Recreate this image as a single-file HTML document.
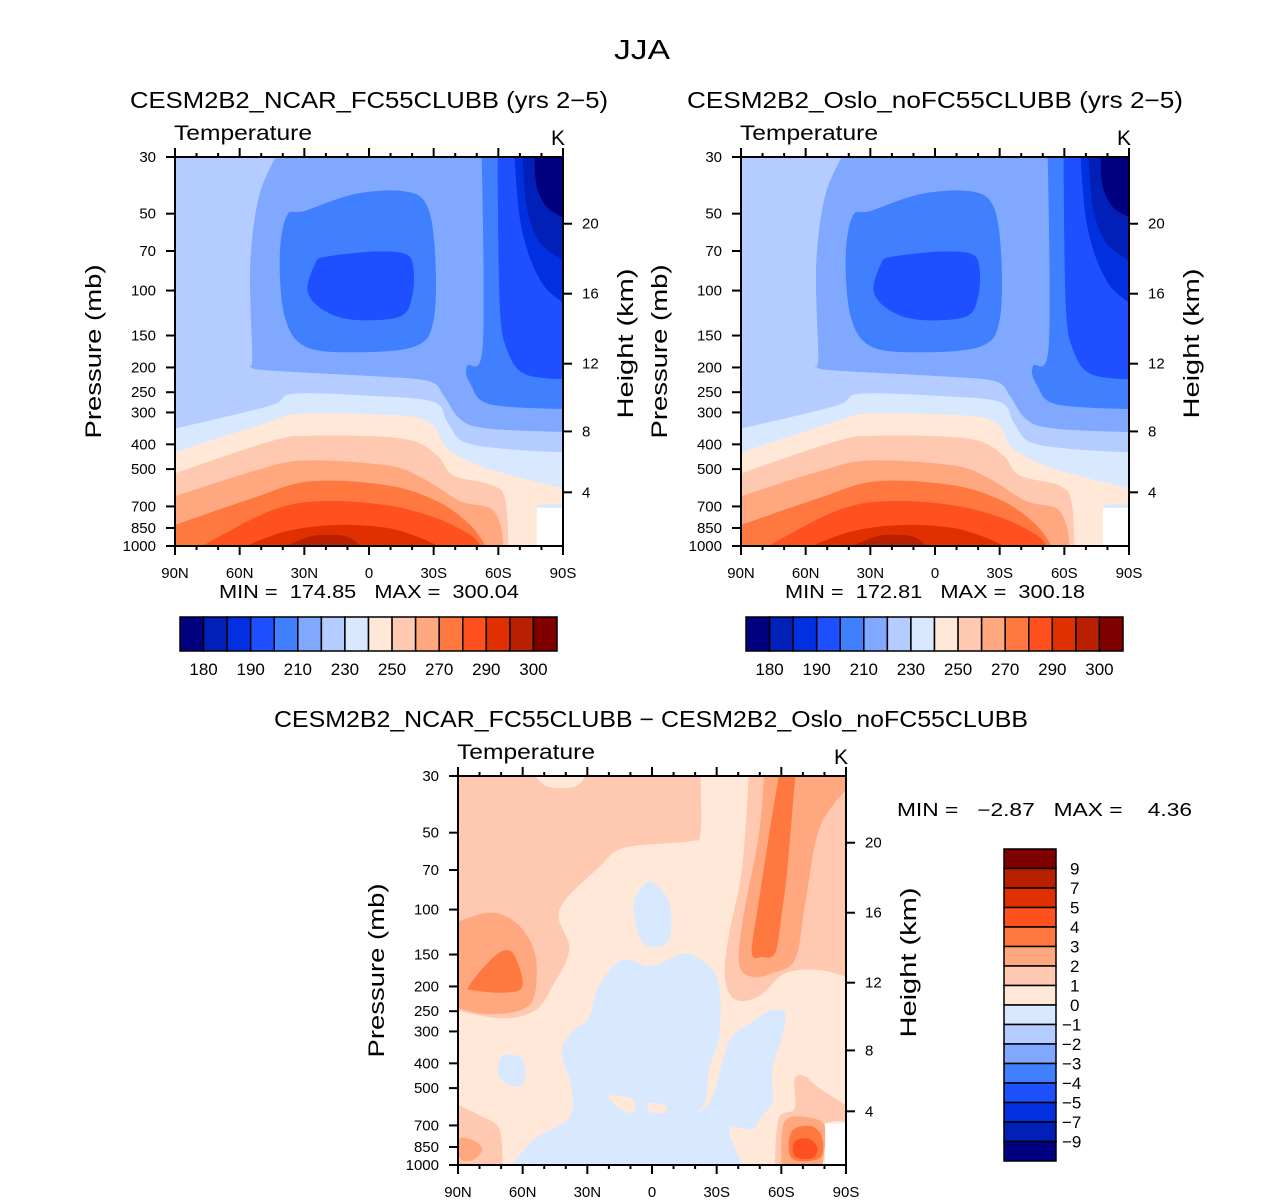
<!DOCTYPE html>
<html><head><meta charset="utf-8">
<style>
html,body{margin:0;padding:0;background:#fff;}
svg{display:block;font-family:"Liberation Sans",sans-serif;}
</style></head>
<body>
<svg id="fig" width="1285" height="1203" viewBox="0 0 1285 1203" xmlns="http://www.w3.org/2000/svg">
<rect width="1285" height="1203" fill="#fff"/>
<text x="642" y="59" font-size="28" text-anchor="middle" fill="#000" textLength="56" lengthAdjust="spacingAndGlyphs">JJA</text>
</svg>
<script>
// ---------- data ----------
const tempColors = ["#000080","#0020b8","#0030e0","#1f50ff","#4080ff","#80a8ff","#b4ccff","#d8e8ff","#ffe8d8","#ffc8b0","#ffa880","#ff7840","#ff5020","#e03000","#b82000","#800000"];
const tempLabels = ["180","190","210","230","250","270","290","300"];
const diffLabels = ["9","7","5","4","3","2","1","0","\u22121","\u22122","\u22123","\u22124","\u22125","\u22127","\u22129"];
const pressureTicks = [30,50,70,100,150,200,250,300,400,500,700,850,1000];
const heightTicks = [20,16,12,8,4];
const latLabels = ["90N","60N","30N","0","30S","60S","90S"];
const latMajor = [90,60,30,0,-30,-60,-90];

// Temperature contour layers: [colorIndex, [[lat,p],...]]
const tempBase = 6;
const tempLayers = [
 [5, [[43,30],[51,43],[55,81],[54,181],[55,198],[46,205],[-3,216],[-28,226],[-35,259],[-42,316],[-54,345],[-90,357],[-90,30]]],
 [4, [[30,49],[6.5,42],[-16.7,41],[-27,47],[-30.6,74],[-29.7,132],[-21.3,165],[6.5,174],[29.7,165],[39,126],[41.3,74],[38,51]]],
 [4, [[-52.4,30],[-52.9,165],[-45.5,198],[-47.3,233],[-56.1,278],[-90,290],[-90,30]]],
 [3, [[20.4,74],[-2.8,70.5],[-16.7,72],[-20.4,80.6],[-19.9,105],[-14.4,126],[6.5,130],[20.4,120],[28.3,101],[25,79]]],
 [3, [[-59.8,30],[-60.8,115],[-64.5,173],[-72.4,212],[-90,222],[-90,30]]],
 [2, [[-67.7,30],[-70,51.5],[-74.7,74],[-81.6,96.5],[-90,111],[-90,30]]],
 [1, [[-71.4,30],[-73.3,47],[-79.3,64.5],[-90,76],[-90,30]]],
 [0, [[-77,30],[-77.9,39],[-82.6,47],[-90,51.5],[-90,30]]],
 [7, [[90,348],[46,283],[35,254],[-0.5,259],[-29.7,273],[-36.2,327],[-43.6,391],[-62,417],[-90,431],[-90,1000],[90,1000]]],
 [8, [[90,431],[46,327],[30.6,304],[-15.8,310],[-29.7,339],[-36.2,417],[-54.7,498],[-90,596],[-90,1000],[90,1000]]],
 [9, [[90,521],[46,391],[27.4,371],[-15.8,381],[-31.5,443],[-39,530],[-57.5,580],[-63.1,663],[-64.5,1000],[90,1000]]],
 [10,[[90,640],[53.8,512],[30.6,464],[-8.3,485],[-25,545],[-42.2,669],[-56.1,712],[-60.8,830],[-62.2,1000],[90,1000]]],
 [11,[[90,830],[53.8,651],[27.4,560],[-8.3,580],[-31.5,669],[-46.9,830],[-53.8,1000],[90,1000]]],
 [12,[[77,1000],[46,732],[22.7,669],[-8.3,694],[-31.5,781],[-46.9,908],[-51.5,1000]]],
 [13,[[56.6,1000],[38,876],[14.8,830],[-8.3,852],[-23.7,931],[-31.5,1000]]],
 [14,[[38,1000],[26,915],[14.8,908],[8.8,931],[4.2,1000]]],
 [7, [[-79.5,690],[-90,690],[-90,708],[-79.5,708]]],
 [-1,[[-77.9,708],[-90,708],[-90,1000],[-77.9,1000]]]
];
// Difference contour layers (same colour table)
const diffBase = 8;
const diffLayers = [
 [9, [[90,30],[-22.3,30],[-22.3,50],[-17.2,54],[12.5,57],[24.6,68],[43.1,100],[38.5,143],[46.4,200],[54.3,248],[69.6,266],[90,248]]],
 [8, [[54,30],[31,30],[36,33],[48,33]]],
 [10,[[90,112],[74.2,103],[61.7,116],[54.3,151],[54.7,218],[61.7,248],[77.5,256],[90,242]]],
 [11,[[84.9,200],[77.5,167],[69.6,146],[64,151],[60.3,200],[69.6,211],[83.5,206]]],
 [9, [[-45,30],[-90,30],[-90,183],[-77.5,172],[-61.7,177],[-49.6,218],[-38.5,224],[-33.9,183],[-35.7,127],[-41.8,70]]],
 [10,[[-52,30],[-90,30],[-90,34],[-77.5,48],[-71,94],[-66.3,156],[-55.7,177],[-46.4,183],[-40.4,161],[-43.1,100],[-49.6,52]]],
 [11,[[-58.9,30],[-66.3,30],[-62.6,70],[-60.3,100],[-57.1,147],[-51,153],[-46.4,147],[-49.6,94],[-54.3,52]]],
 [7, [[0,78],[-7.9,94],[-8.3,127],[-3.3,139],[4.6,134],[8.4,100],[6,85]]],
 [7, [[13.9,158],[0,167],[-15.3,149],[-26.4,167],[-31.1,200],[-31.1,313],[-26.4,421],[-24.6,565],[-18.6,640],[-27.8,551],[-35.7,330],[-46.4,276],[-55.7,248],[-61.7,256],[-60.3,313],[-55.7,421],[-55.7,565],[-51,640],[-46.4,722],[-35.7,722],[-41.8,1000],[65,1000],[54.3,791],[38.5,657],[37.1,502],[41.8,361],[37.1,302],[29.2,266],[24.6,200]]],
 [7, [[69.6,376],[60.3,384],[59.4,472],[65,489],[71,447]]],
 [8, [[18.6,535],[9.3,551],[7.9,607],[12.5,619],[19.5,551]]],
 [8, [[1.4,574],[-6,585],[-6,619],[0.9,619]]],
 [9, [[90,585],[80.3,640],[71,722],[69.6,1000],[90,1000]]],
 [10,[[89,791],[82,810],[79,876],[83.5,957],[89,940]]],
 [9, [[-66.3,460],[-71,451],[-77.5,502],[-90,585],[-90,675],[-80.3,700],[-78.9,1000],[-57.1,1000],[-58.9,657],[-66.3,602]]],
 [10,[[-61.7,675],[-74.2,657],[-80.3,722],[-78.9,1000],[-60.3,1000]]],
 [11,[[-64.9,739],[-74.2,708],[-78.9,791],[-77.5,940],[-64.9,940]]],
 [12,[[-66.3,810],[-72.8,791],[-76.6,859],[-74.2,940],[-66.3,924]]],
 [-1,[[-80.3,687],[-90,687],[-90,1000],[-80.3,1000]]]
];

// ---------- drawing ----------
const NS="http://www.w3.org/2000/svg";
const svg=document.getElementById('fig');
function mk(tag,attrs,parent){const e=document.createElementNS(NS,tag);for(const k in attrs)e.setAttribute(k,attrs[k]);(parent||svg).appendChild(e);return e;}
function txt(s,attrs,parent){const e=mk('text',attrs,parent);e.textContent=s;return e;}
function stdP(zkm){const z=zkm*1000;if(z<=11000)return 1013.25*Math.pow(1-2.25577e-5*z,5.25588);return 226.32*Math.exp(-(z-11000)/6341.6);}
function isEdge(q){return Math.abs(q[0])>=90||q[1]<=30||q[1]>=1000;}
function smoothPath(raw,X,Y){
  const n=raw.length, P=raw.map(q=>[X(q[0]),Y(q[1])]), E=raw.map(isEdge);
  const tan=i=>{if(E[i])return[0,0];const a=P[(i-1+n)%n],b=P[(i+1)%n];return[(b[0]-a[0])/6,(b[1]-a[1])/6];};
  let d='M'+P[0][0].toFixed(1)+','+P[0][1].toFixed(1);
  for(let i=0;i<n;i++){
    const j=(i+1)%n,t0=tan(i),t1=tan(j);
    if(E[i]&&E[j]){d+='L'+P[j][0].toFixed(1)+','+P[j][1].toFixed(1);continue;}
    d+='C'+(P[i][0]+t0[0]).toFixed(1)+','+(P[i][1]+t0[1]).toFixed(1)+' '+(P[j][0]-t1[0]).toFixed(1)+','+(P[j][1]-t1[1]).toFixed(1)+' '+P[j][0].toFixed(1)+','+P[j][1].toFixed(1);
  }
  return d+'Z';
}

function panel(o){
  const W=388,H=389,L=o.left,T=o.top;
  const X=lat=>L+(90-lat)/180*W;
  const Y=p=>T+Math.log(p/30)/Math.log(1000/30)*H;
  const g=mk('g',{});
  
  
  const clipId=o.name+'-clip';
  const cp=mk('clipPath',{id:clipId},g);mk('rect',{x:L,y:T,width:W,height:H},cp);
  const field=mk('g',{'clip-path':'url(#'+clipId+')'},g);
  
  
  mk('rect',{x:L,y:T,width:W,height:H,fill:tempColors[o.base]},field);
  o.layers.forEach(ly=>{
    const white=ly[0]<0;
    const pg=white?mk('polygon',{points:ly[1].map(q=>X(q[0]).toFixed(1)+','+Y(q[1]).toFixed(1)).join(' '),fill:'#fff'},field)
      :mk('path',{d:smoothPath(ly[1],X,Y),fill:tempColors[ly[0]],stroke:tempColors[ly[0]],'stroke-width':'0.6'},field);
    
    
  });
  mk('rect',{x:L,y:T,width:W,height:H,fill:'none',stroke:'#000','stroke-width':2},g);
  for(let lat=90;lat>=-90;lat-=10){
    const major=lat%30===0, len=major?9:4, x=X(lat);
    mk('line',{x1:x,y1:T,x2:x,y2:T-len,stroke:'#000','stroke-width':2},g);
    mk('line',{x1:x,y1:T+H,x2:x,y2:T+H+len,stroke:'#000','stroke-width':2},g);
  }
  latMajor.forEach((lat,i)=>{
    const t=txt(latLabels[i],{x:X(lat),y:T+H+32,'font-size':15,'text-anchor':'middle'},g);
    
  });
  pressureTicks.forEach(p=>{
    const y=Y(p);
    mk('line',{x1:L,y1:y,x2:L-9,y2:y,stroke:'#000','stroke-width':2},g);
    const t=txt(String(p),{x:L-19,y:y+5,'font-size':15,'text-anchor':'end'},g);
    
  });
  heightTicks.forEach(z=>{
    const y=Y(stdP(z));
    mk('line',{x1:L+W,y1:y,x2:L+W+9,y2:y,stroke:'#000','stroke-width':2},g);
    const t=txt(String(z),{x:L+W+19,y:y+5,'font-size':15},g);
    
  });
  let t=txt('Pressure (mb)',{x:0,y:0,'font-size':22,'text-anchor':'middle',transform:`translate(${L-74},${T+H/2}) rotate(-90)`,textLength:174,lengthAdjust:'spacingAndGlyphs'},g);
  
  t=txt('Height (km)',{x:0,y:0,'font-size':22,'text-anchor':'middle',transform:`translate(${L+W+70},${T+H/2-8}) rotate(-90)`,textLength:150,lengthAdjust:'spacingAndGlyphs'},g);
  
  t=txt('Temperature',{x:L-1,y:T-17,'font-size':21,textLength:138,lengthAdjust:'spacingAndGlyphs'},g);
  
  t=txt('K',{x:L+W-12,y:T-12,'font-size':21},g);
  
  t=txt(o.title,{x:L+W/2+o.titleDx,y:T-49,'font-size':23,'text-anchor':'middle',textLength:o.titleLen,lengthAdjust:'spacingAndGlyphs'},g);
  
}

panel({name:'ncar-panel',left:175,top:157,base:tempBase,layers:tempLayers,title:'CESM2B2_NCAR_FC55CLUBB (yrs 2\u22125)',titleDx:0,titleLen:478});
panel({name:'oslo-panel',left:741,top:157,base:tempBase,layers:tempLayers,title:'CESM2B2_Oslo_noFC55CLUBB (yrs 2\u22125)',titleDx:0,titleLen:496});
panel({name:'diff-panel',left:458,top:776,base:diffBase,layers:diffLayers,title:'CESM2B2_NCAR_FC55CLUBB \u2212 CESM2B2_Oslo_noFC55CLUBB',titleDx:-1,titleLen:754});

function mmText(s,x,y,anchor,len){const t=txt(s,{x:x,y:y,'font-size':18,'text-anchor':anchor,textLength:len,lengthAdjust:'spacingAndGlyphs'});t.style.whiteSpace='pre';}
mmText('MIN =  174.85   MAX =  300.04',369,598,'middle',300);
mmText('MIN =  172.81   MAX =  300.18',935,598,'middle',300);
mmText('MIN =   \u22122.87   MAX =    4.36',897,816,'start',295);

function hbar(x0,name){
  const g=mk('g',{});
  const w=377/16;
  tempColors.forEach((c,i)=>{const r=mk('rect',{x:x0+i*w,y:617,width:w,height:34,fill:c,stroke:'#000','stroke-width':1.5},g);});
  tempLabels.forEach((s,i)=>{const t=txt(s,{x:x0+(1+2*i)*w,y:675,'font-size':17,'text-anchor':'middle'},g);});
}
hbar(180,'ncar-colorbar');hbar(746,'oslo-colorbar');
(function(){
  const g=mk('g',{});
  const h=312/16;
  tempColors.slice().reverse().forEach((c,i)=>{const r=mk('rect',{x:1004,y:849+i*h,width:52,height:h,fill:c,stroke:'#000','stroke-width':1.5},g);});
  diffLabels.forEach((s,i)=>{const t=txt(s,{x:s.length>1?1062:1070,y:849+(i+1)*h+6,'font-size':17},g);});
})();
</script>
</body></html>
